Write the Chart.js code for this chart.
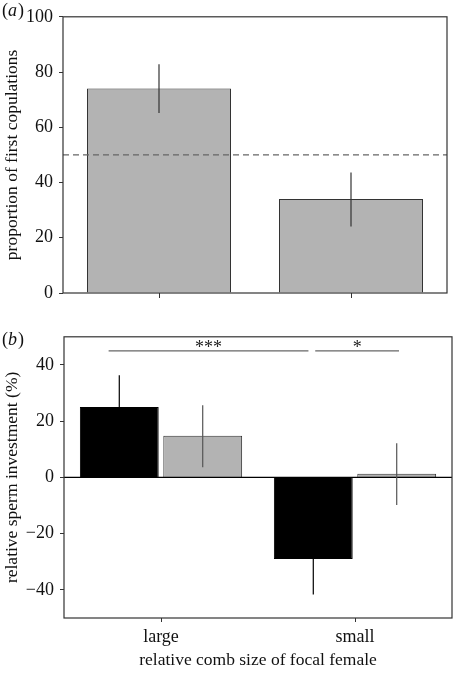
<!DOCTYPE html>
<html>
<head>
<meta charset="utf-8">
<script src="https://cdn.jsdelivr.net/npm/chart.js@4.4.1/dist/chart.umd.min.js"></script>
<style>
  html, body { margin: 0; padding: 0; background: #fff; }
  #wrap { position: relative; width: 454px; height: 674px; }
  .panel { position: absolute; left: 0; }
  #pa { top: 0; width: 454px; height: 310px; }
  #pb { top: 320px; width: 454px; height: 354px; }
</style>
</head>
<body>
<div id="wrap">
  <div class="panel" id="pa"><canvas id="chartA"></canvas></div>
  <div class="panel" id="pb"><canvas id="chartB"></canvas></div>
</div>
<script>
"use strict";

const FONT = '"Liberation Serif", "DejaVu Serif", serif';

// panel (a)
const CATEGORIES = ["large", "small"];
const FIRST_COP = [74, 34];
const FIRST_COP_LO = [65.2, 24.1];
const FIRST_COP_HI = [82.8, 43.6];
const CHANCE_LEVEL = 50;
const TICKS_A = [0, 20, 40, 60, 80, 100];

// panel (b)
const SPERM_BLACK = [25, -29];
const SPERM_BLACK_LO = [13.7, -41.6];
const SPERM_BLACK_HI = [36.3, -16.4];
const SPERM_GREY = [14.8, 1.3];
const SPERM_GREY_LO = [3.6, -9.8];
const SPERM_GREY_HI = [25.7, 12.1];
const TICKS_B = [-40, -20, 0, 20, 40];
// significance bars: x in category index units, y in data units
const SIG_FROM = [-0.27, 0.795];
const SIG_TO = [0.76, 1.227];
const SIG_Y = [45, 45];
const SIG_TEXT = ["***", "*"];

const GREY = "#b3b3b3";

function tickFmt(v) {
  return v < 0 ? "\u2212" + Math.abs(v) : String(v);
}

// 枠線・誤差棒・パネル記号
const decorations = {
  id: "decorations",
  afterDatasetsDraw(chart, args, opts) {
    const { ctx, chartArea: a, scales } = chart;
    const y = scales.y;
    ctx.save();
    if (opts.zeroLine) {
      const py = y.getPixelForValue(0);
      ctx.strokeStyle = "#000";
      ctx.lineWidth = 1.2;
      ctx.beginPath();
      ctx.moveTo(a.left, py);
      ctx.lineTo(a.right, py);
      ctx.stroke();
    }
    if (opts.dashAt != null) {
      const py = y.getPixelForValue(opts.dashAt);
      ctx.strokeStyle = "#666";
      ctx.lineWidth = 1.4;
      ctx.setLineDash([6, 4]);
      ctx.beginPath();
      ctx.moveTo(a.left, py);
      ctx.lineTo(a.right, py);
      ctx.stroke();
      ctx.setLineDash([]);
    }
    // error bars
    chart.data.datasets.forEach((ds, i) => {
      const meta = chart.getDatasetMeta(i);
      meta.data.forEach((el, j) => {
        ctx.strokeStyle = ds.errColor || "#333";
        ctx.lineWidth = 1.2;
        ctx.beginPath();
        ctx.moveTo(el.x, y.getPixelForValue(ds.lo[j]));
        ctx.lineTo(el.x, y.getPixelForValue(ds.hi[j]));
        ctx.stroke();
      });
    });
    // significance lines
    if (opts.sig) {
      const step = (a.right - a.left) / CATEGORIES.length;
      const toPx = (idx) => a.left + (idx + 0.5) * step;
      ctx.font = "18px " + FONT;
      ctx.textAlign = "center";
      ctx.textBaseline = "alphabetic";
      SIG_TEXT.forEach((t, k) => {
        const x0 = toPx(SIG_FROM[k]), x1 = toPx(SIG_TO[k]);
        const py = y.getPixelForValue(SIG_Y[k]);
        ctx.strokeStyle = "#666";
        ctx.lineWidth = 1.2;
        ctx.beginPath();
        ctx.moveTo(x0, py);
        ctx.lineTo(x1, py);
        ctx.stroke();
        ctx.fillStyle = "#222";
        ctx.fillText(t, (x0 + x1) / 2, py + 2);
      });
    }
    // frame
    ctx.strokeStyle = "#333";
    ctx.lineWidth = 1.2;
    ctx.strokeRect(a.left, a.top, a.right - a.left, a.bottom - a.top);
    // panel letter
    ctx.fillStyle = "#111";
    ctx.textAlign = "left";
    ctx.textBaseline = "alphabetic";
    ctx.font = "18px " + FONT;
    let px = 2;
    ctx.fillText("(", px, opts.letterY);
    px += ctx.measureText("(").width;
    ctx.font = "italic 18px " + FONT;
    ctx.fillText(opts.letter, px, opts.letterY);
    px += ctx.measureText(opts.letter).width + 1;
    ctx.font = "18px " + FONT;
    ctx.fillText(")", px, opts.letterY);
    ctx.restore();
  },
};

function yScale(min, max, ticks, title, width) {
  return {
    min, max,
    afterBuildTicks: (s) => { s.ticks = ticks.map((v) => ({ value: v })); },
    afterFit: (s) => { s.width = width; },
    border: { display: false },
    grid: { drawOnChartArea: false, drawTicks: true, tickLength: 4, color: "#333" },
    ticks: { color: "#111", padding: 6, font: { family: FONT, size: 18 }, callback: tickFmt },
    title: {
      display: true, text: title, color: "#111",
      font: { family: FONT, size: 17.5 }, padding: { top: 2, bottom: 0 },
    },
  };
}

const common = {
  responsive: true,
  maintainAspectRatio: false,
  animation: false,
  events: [],
  plugins: { legend: { display: false }, tooltip: { enabled: false } },
};

new Chart(document.getElementById("chartA"), {
  type: "bar",
  data: {
    labels: CATEGORIES,
    datasets: [{
      data: FIRST_COP, lo: FIRST_COP_LO, hi: FIRST_COP_HI,
      backgroundColor: GREY, borderColor: "#333", borderWidth: 1,
      barPercentage: 0.75, categoryPercentage: 1,
    }],
  },
  options: {
    ...common,
    layout: { padding: { top: 10, right: 7, left: 0, bottom: 0 } },
    plugins: { ...common.plugins, decorations: { dashAt: CHANCE_LEVEL, letter: "a", letterY: 16 } },
    scales: {
      x: {
        afterFit: (s) => { s.height = 17; },
        border: { display: false },
        grid: { offset: false, drawOnChartArea: false, drawTicks: true, tickLength: 5, color: "#333" },
        ticks: { display: false },
      },
      y: yScale(0, 100, TICKS_A, "proportion of first copulations", 63),
    },
  },
  plugins: [decorations],
});

new Chart(document.getElementById("chartB"), {
  type: "bar",
  data: {
    labels: CATEGORIES,
    datasets: [
      {
        data: SPERM_BLACK, lo: SPERM_BLACK_LO, hi: SPERM_BLACK_HI,
        backgroundColor: "#000", borderColor: "#000", borderWidth: 1, errColor: "#000",
        barPercentage: 0.945, categoryPercentage: 0.86,
      },
      {
        data: SPERM_GREY, lo: SPERM_GREY_LO, hi: SPERM_GREY_HI,
        backgroundColor: GREY, borderColor: "#333", borderWidth: 1, errColor: "#555",
        barPercentage: 0.945, categoryPercentage: 0.86,
      },
    ],
  },
  options: {
    ...common,
    layout: { padding: { top: 15, right: 2, left: 0, bottom: 0 } },
    plugins: { ...common.plugins, decorations: { zeroLine: true, sig: true, letter: "b", letterY: 25 } },
    scales: {
      x: {
        afterFit: (s) => { s.height = 56; },
        border: { display: false },
        grid: { offset: false, drawOnChartArea: false, drawTicks: true, tickLength: 4, color: "#333" },
        ticks: { color: "#111", padding: 4, font: { family: FONT, size: 18 } },
        title: {
          display: true, text: "relative comb size of focal female", color: "#111",
          font: { family: FONT, size: 17.5 }, padding: { top: 0, bottom: 3 },
        },
      },
      y: yScale(-50, 50, TICKS_B, "relative sperm investment (%)", 64),
    },
  },
  plugins: [decorations],
});
</script>
</body>
</html>
